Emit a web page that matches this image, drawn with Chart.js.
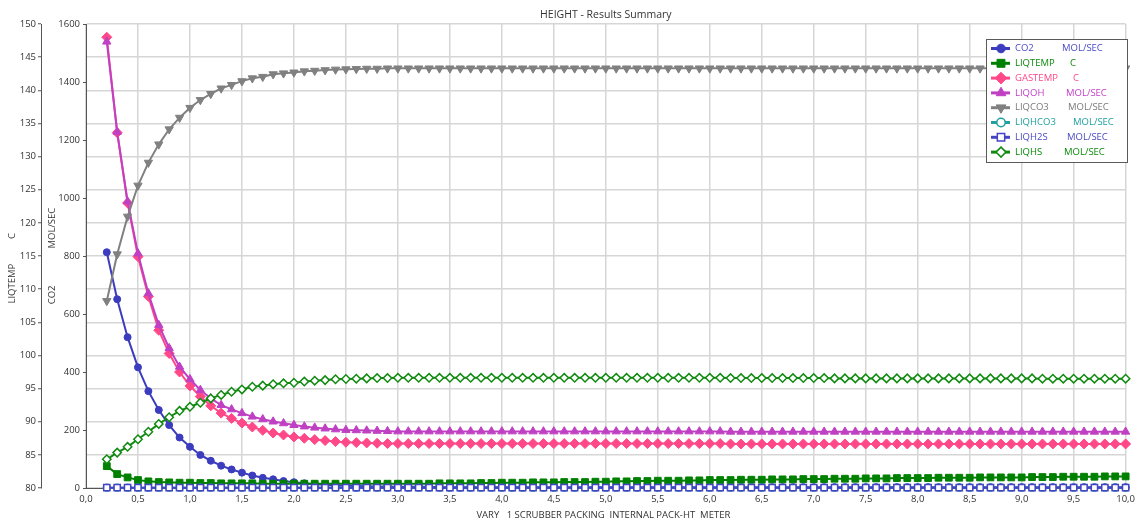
<!DOCTYPE html>
<html>
<head>
<meta charset="utf-8">
<script src="https://cdn.jsdelivr.net/npm/chart.js@4/dist/chart.umd.min.js"></script>
<style>
  html, body { margin: 0; padding: 0; background: #ffffff; }
  canvas { display: block; }
</style>
</head>
<body>
<canvas id="results" width="1141" height="525"></canvas>
<script>
// Packing height (m), one sensitivity case per point
const packHeight = [
  0.2, 0.3, 0.4, 0.5, 0.6, 0.7, 0.8, 0.9, 1.0, 1.1,
  1.2, 1.3, 1.4, 1.5, 1.6, 1.7, 1.8, 1.9, 2.0, 2.1,
  2.2, 2.3, 2.4, 2.5, 2.6, 2.7, 2.8, 2.9, 3.0, 3.1,
  3.2, 3.3, 3.4, 3.5, 3.6, 3.7, 3.8, 3.9, 4.0, 4.1,
  4.2, 4.3, 4.4, 4.5, 4.6, 4.7, 4.8, 4.9, 5.0, 5.1,
  5.2, 5.3, 5.4, 5.5, 5.6, 5.7, 5.8, 5.9, 6.0, 6.1,
  6.2, 6.3, 6.4, 6.5, 6.6, 6.7, 6.8, 6.9, 7.0, 7.1,
  7.2, 7.3, 7.4, 7.5, 7.6, 7.7, 7.8, 7.9, 8.0, 8.1,
  8.2, 8.3, 8.4, 8.5, 8.6, 8.7, 8.8, 8.9, 9.0, 9.1,
  9.2, 9.3, 9.4, 9.5, 9.6, 9.7, 9.8, 9.9, 10.0
];

// CO2 in treated gas, MOL/SEC
const co2 = [
  813, 651, 520, 416, 334, 269, 217, 174, 142, 114,
  94, 77, 64, 53, 43, 35, 30, 24, 20, 16,
  13, 11, 9, 8, 7, 6, 5, 5, 4, 4,
  4, 4, 3, 3, 3, 3, 3, 3, 3, 3,
  3, 3, 3, 3, 3, 3, 3, 3, 3, 3,
  3, 3, 3, 3, 3, 3, 3, 3, 3, 3,
  3, 3, 3, 3, 3, 3, 3, 3, 3, 3,
  3, 3, 3, 3, 3, 3, 3, 3, 3, 3,
  3, 3, 3, 3, 3, 3, 3, 3, 3, 3,
  3, 3, 3, 3, 3, 3, 3, 3, 3
];

// Liquid outlet temperature, C
const liqTemp = [
  83.3, 82.1, 81.6, 81.2, 81.0, 80.9, 80.85, 80.8, 80.8, 80.75,
  80.75, 80.7, 80.7, 80.7, 80.7, 80.65, 80.65, 80.65, 80.65, 80.65,
  80.65, 80.65, 80.65, 80.65, 80.65, 80.65, 80.65, 80.65, 80.65, 80.65,
  80.65, 80.65, 80.7, 80.7, 80.7, 80.7, 80.75, 80.75, 80.8, 80.8,
  80.8, 80.85, 80.85, 80.85, 80.9, 80.9, 80.9, 80.95, 80.95, 81.0,
  81.0, 81.05, 81.05, 81.1, 81.1, 81.1, 81.15, 81.15, 81.2, 81.2,
  81.2, 81.25, 81.25, 81.25, 81.3, 81.3, 81.3, 81.35, 81.35, 81.35,
  81.4, 81.4, 81.4, 81.45, 81.45, 81.45, 81.5, 81.5, 81.5, 81.5,
  81.55, 81.55, 81.55, 81.55, 81.6, 81.6, 81.6, 81.6, 81.6, 81.65,
  81.65, 81.65, 81.7, 81.7, 81.7, 81.7, 81.75, 81.75, 81.75
];

// Gas outlet temperature, C
const gasTemp = [
  148.0, 133.6, 123.0, 114.9, 108.9, 103.8, 100.3, 97.5, 95.4, 93.8,
  92.4, 91.3, 90.5, 89.8, 89.2, 88.7, 88.3, 88.0, 87.7, 87.5,
  87.3, 87.15, 87.0, 86.9, 86.85, 86.8, 86.75, 86.7, 86.7, 86.7,
  86.7, 86.7, 86.7, 86.7, 86.7, 86.7, 86.7, 86.7, 86.7, 86.7,
  86.7, 86.7, 86.7, 86.7, 86.7, 86.7, 86.7, 86.7, 86.7, 86.7,
  86.7, 86.7, 86.7, 86.7, 86.7, 86.7, 86.7, 86.7, 86.7, 86.7,
  86.65, 86.65, 86.65, 86.65, 86.65, 86.65, 86.65, 86.65, 86.65, 86.65,
  86.65, 86.65, 86.65, 86.65, 86.65, 86.65, 86.65, 86.65, 86.65, 86.65,
  86.65, 86.65, 86.65, 86.65, 86.65, 86.65, 86.65, 86.65, 86.65, 86.65,
  86.65, 86.65, 86.65, 86.65, 86.65, 86.65, 86.65, 86.65, 86.65
];

// Liquid OH-, MOL/SEC
const liqOH = [
  1539, 1228, 988, 809, 671, 562, 482, 418, 375, 338,
  309, 286, 271, 258, 246, 237, 229, 223, 217, 212,
  208, 205, 202, 200, 199, 198, 197, 196, 195, 195,
  195, 195, 195, 195, 195, 195, 195, 195, 195, 195,
  195, 195, 195, 195, 195, 195, 195, 195, 195, 195,
  195, 195, 195, 195, 195, 195, 195, 195, 195, 195,
  194, 194, 194, 194, 194, 194, 194, 194, 194, 194,
  194, 194, 194, 194, 194, 194, 194, 194, 194, 194,
  194, 194, 194, 194, 194, 194, 194, 194, 194, 194,
  194, 194, 194, 194, 194, 194, 194, 194, 194
];

// Liquid CO3--, MOL/SEC
const liqCO3 = [
  645, 806, 936, 1043, 1122, 1185, 1237, 1277, 1311, 1338,
  1359, 1378, 1390, 1403, 1413, 1418, 1427, 1430, 1433, 1437,
  1439, 1441, 1443, 1444, 1445, 1446, 1446, 1447, 1447, 1447,
  1447, 1447, 1447, 1447, 1447, 1447, 1447, 1447, 1447, 1447,
  1447, 1447, 1447, 1447, 1447, 1447, 1447, 1447, 1447, 1447,
  1447, 1447, 1447, 1447, 1447, 1447, 1447, 1447, 1447, 1447,
  1447, 1447, 1447, 1447, 1447, 1447, 1447, 1447, 1447, 1447,
  1447, 1447, 1447, 1447, 1447, 1447, 1447, 1447, 1447, 1447,
  1447, 1447, 1447, 1447, 1447, 1447, 1447, 1447, 1447, 1447,
  1447, 1447, 1447, 1447, 1447, 1447, 1447, 1447, 1447
];

// Liquid HCO3-, MOL/SEC
const liqHCO3 = [
  1, 1, 1, 1, 1, 1, 1, 1, 1, 1,
  1, 1, 1, 1, 1, 1, 1, 1, 1, 1,
  1, 1, 1, 1, 1, 1, 1, 1, 1, 1,
  1, 1, 1, 1, 1, 1, 1, 1, 1, 1,
  1, 1, 1, 1, 1, 1, 1, 1, 1, 1,
  1, 1, 1, 1, 1, 1, 1, 1, 1, 1,
  1, 1, 1, 1, 1, 1, 1, 1, 1, 1,
  1, 1, 1, 1, 1, 1, 1, 1, 1, 1,
  1, 1, 1, 1, 1, 1, 1, 1, 1, 1,
  1, 1, 1, 1, 1, 1, 1, 1, 1
];

// Liquid H2S, MOL/SEC
const liqH2S = [
  1, 1, 1, 1, 1, 1, 1, 1, 1, 1,
  1, 1, 1, 1, 1, 1, 1, 1, 1, 1,
  1, 1, 1, 1, 1, 1, 1, 1, 1, 1,
  1, 1, 1, 1, 1, 1, 1, 1, 1, 1,
  1, 1, 1, 1, 1, 1, 1, 1, 1, 1,
  1, 1, 1, 1, 1, 1, 1, 1, 1, 1,
  1, 1, 1, 1, 1, 1, 1, 1, 1, 1,
  1, 1, 1, 1, 1, 1, 1, 1, 1, 1,
  1, 1, 1, 1, 1, 1, 1, 1, 1, 1,
  1, 1, 1, 1, 1, 1, 1, 1, 1
];

// Liquid HS-, MOL/SEC
const liqHS = [
  99, 122, 142, 168, 194, 221, 244, 266, 280, 294,
  309, 321, 332, 340, 349, 353, 358, 361, 363, 367,
  370, 372, 375, 376, 377, 378, 379, 379, 380, 380,
  380, 380, 380, 380, 380, 380, 380, 380, 380, 380,
  380, 380, 380, 380, 380, 380, 380, 380, 380, 380,
  380, 380, 380, 380, 380, 380, 380, 380, 380, 380,
  379, 379, 379, 379, 379, 379, 379, 379, 379, 379,
  378, 378, 378, 378, 378, 378, 378, 378, 378, 378,
  378, 378, 378, 378, 378, 378, 378, 378, 378, 378,
  377, 377, 377, 377, 377, 377, 377, 377, 377
];

const seriesNames = ['CO2', 'LIQTEMP', 'GASTEMP', 'LIQOH', 'LIQCO3', 'LIQHCO3', 'LIQH2S', 'LIQHS'];
const seriesUnits = ['MOL/SEC', 'C', 'C', 'MOL/SEC', 'MOL/SEC', 'MOL/SEC', 'MOL/SEC', 'MOL/SEC'];
const seriesValues = [co2, liqTemp, gasTemp, liqOH, liqCO3, liqHCO3, liqH2S, liqHS];

const chartTitle = 'HEIGHT - Results Summary';
const xTitle = 'VARY   1 SCRUBBER PACKING  INTERNAL PACK-HT  METER  ';
const tempTitle = 'LIQTEMP          C          ';
const molTitle = 'CO2               MOL/SEC';

// Styling per series
const styles = [
  { color: '#3c3cbe', text: '#4a4ac4', axis: 'yMol',  point: 'circle',   radius: 3.5, rot: 0,   open: false },
  { color: '#008000', text: '#0a8a0a', axis: 'yTemp', point: 'rect',     radius: 4.8, rot: 0,   open: false },
  { color: '#ff4888', text: '#ff4888', axis: 'yTemp', point: 'rectRot',  radius: 5.0, rot: 0,   open: false },
  { color: '#c040c4', text: '#c23ec6', axis: 'yMol',  point: 'triangle', radius: 4.8, rot: 0,   open: false },
  { color: '#808080', text: '#7a7a7a', axis: 'yMol',  point: 'triangle', radius: 4.8, rot: 180, open: false },
  { color: '#20a0a0', text: '#1e9e9e', axis: 'yMol',  point: 'circle',   radius: 3.4, rot: 0,   open: true  },
  { color: '#4444c4', text: '#4a4ac4', axis: 'yMol',  point: 'rect',     radius: 4.4, rot: 0,   open: true  },
  { color: '#108a10', text: '#0a8a0a', axis: 'yMol',  point: 'rectRot',  radius: 4.2, rot: 0,   open: true  }
];

const FONT = '"Open Sans", "Noto Sans", sans-serif';
const TEXT = '#333333';
const GRID = '#d6d6d6';
const AXIS = '#555555';

const datasets = seriesNames.map((name, i) => {
  const s = styles[i];
  return {
    label: name,
    data: packHeight.map((x, k) => ({ x: x, y: seriesValues[i][k] })),
    yAxisID: s.axis,
    borderColor: s.color,
    backgroundColor: s.open ? '#ffffff' : s.color,
    borderWidth: 2,
    pointStyle: s.point,
    pointRotation: s.rot,
    pointRadius: s.radius,
    pointBorderWidth: s.open ? 1.5 : 1,
    pointBorderColor: s.color,
    pointBackgroundColor: s.open ? '#ffffff' : s.color,
    tension: 0,
    clip: false,
    order: seriesNames.length - i
  };
});

// Title centred over the plotting area
const titlePlugin = {
  id: 'summaryTitle',
  afterDraw(chart) {
    const { ctx, chartArea } = chart;
    ctx.save();
    ctx.font = '10.5px ' + FONT;
    ctx.fillStyle = TEXT;
    ctx.textAlign = 'center';
    ctx.textBaseline = 'middle';
    ctx.fillText(chartTitle, (chartArea.left + chartArea.right) / 2, 15);
    ctx.restore();
  }
};

// Boxed legend with series name and unit columns
const legendPlugin = {
  id: 'unitLegend',
  afterDraw(chart) {
    const ctx = chart.ctx;
    const left = 986.5, top = 39.5, width = 141, height = 123;
    const unitX = [1062, 1070, 1073, 1066, 1068, 1073, 1067, 1064];
    ctx.save();
    ctx.fillStyle = '#ffffff';
    ctx.fillRect(left, top, width, height);
    ctx.strokeStyle = '#5a5a5a';
    ctx.lineWidth = 1;
    ctx.strokeRect(left, top, width, height);
    ctx.font = '9.5px ' + FONT;
    ctx.textBaseline = 'middle';
    ctx.textAlign = 'left';
    seriesNames.forEach((name, i) => {
      const s = styles[i];
      const cy = 48.5 + i * 14.8;
      ctx.strokeStyle = s.color;
      ctx.lineWidth = 3;
      ctx.beginPath();
      ctx.moveTo(991, cy);
      ctx.lineTo(1010, cy);
      ctx.stroke();
      ctx.fillStyle = s.open ? '#ffffff' : s.color;
      ctx.strokeStyle = s.color;
      ctx.lineWidth = s.open ? 1.5 : 1;
      Chart.helpers.drawPoint(ctx, {
        pointStyle: s.point,
        rotation: s.rot,
        radius: s.radius + 0.8,
        borderWidth: ctx.lineWidth
      }, 1001, cy);
      ctx.fillStyle = s.text;
      ctx.fillText(name, 1015, cy);
      ctx.fillText(seriesUnits[i], unitX[i], cy);
    });
    ctx.restore();
  }
};

const tickFont = { family: FONT, size: 9.5 };

new Chart(document.getElementById('results'), {
  type: 'line',
  data: { datasets: datasets },
  plugins: [titlePlugin, legendPlugin],
  options: {
    responsive: false,
    devicePixelRatio: 1,
    animation: false,
    layout: { padding: { top: 24, right: 14, bottom: 0, left: 0 } },
    plugins: {
      legend: { display: false },
      title: { display: false },
      tooltip: { enabled: false }
    },
    scales: {
      x: {
        type: 'linear',
        min: 0,
        max: 10,
        ticks: {
          stepSize: 0.5,
          autoSkip: false,
          maxRotation: 0,
          padding: 6,
          color: TEXT,
          font: tickFont,
          callback: v => v.toFixed(1).replace('.', ',')
        },
        grid: { color: GRID, lineWidth: 1.5, drawTicks: false },
        border: { display: true, color: AXIS, width: 1 },
        title: {
          display: true,
          text: xTitle,
          color: TEXT,
          font: tickFont,
          padding: { top: 4, bottom: 4 }
        },
        afterFit: scale => { scale.height = 37; }
      },
      yTemp: {
        type: 'linear',
        position: 'left',
        weight: 1,
        min: 80,
        max: 150,
        ticks: { stepSize: 5, padding: 2, color: TEXT, font: tickFont, callback: v => String(v) },
        grid: {
          color: GRID,
          lineWidth: 1.5,
          drawOnChartArea: true,
          drawTicks: true,
          tickLength: 3,
          tickColor: AXIS,
          tickWidth: 1
        },
        border: { display: true, color: AXIS, width: 1 },
        title: {
          display: true,
          text: tempTitle,
          color: TEXT,
          font: tickFont,
          padding: { top: 7, bottom: 7 }
        },
        afterFit: scale => { scale.width = 41; }
      },
      yMol: {
        type: 'linear',
        position: 'left',
        weight: 0,
        min: 0,
        max: 1600,
        ticks: { stepSize: 200, padding: 3, color: TEXT, font: tickFont, callback: v => String(v) },
        grid: {
          drawOnChartArea: false,
          drawTicks: true,
          tickLength: 3,
          tickColor: AXIS,
          tickWidth: 1
        },
        border: { display: true, color: AXIS, width: 1 },
        title: {
          display: true,
          text: molTitle,
          color: TEXT,
          font: tickFont,
          padding: { top: 6, bottom: 6 }
        },
        afterFit: scale => { scale.width = 45; }
      }
    }
  }
});
</script>
</body>
</html>
